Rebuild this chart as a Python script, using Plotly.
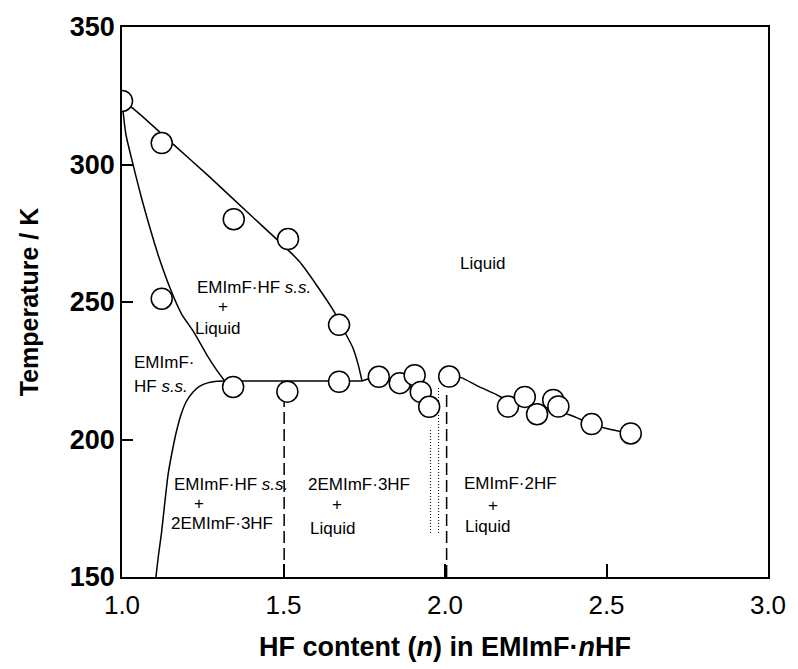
import plotly.graph_objects as go

# Measured DSC points: HF content n and transition temperature (K)
pts_n = [1.000, 1.123, 1.346, 1.514, 1.123, 1.672, 1.344, 1.512, 1.672, 1.795,
         1.860, 1.906, 1.925, 1.951, 2.013, 2.195, 2.247, 2.285, 2.335, 2.351,
         2.454, 2.575]
pts_T = [323.1, 307.8, 280.1, 272.9, 251.2, 241.7, 219.1, 217.4, 221.0, 222.8,
         220.5, 223.4, 217.3, 211.9, 222.9, 212.0, 215.5, 209.2, 214.4, 212.0,
         205.6, 202.2]

# Liquidus of EMImF·HF solid solution
liq1_n = [1.000, 1.035, 1.159, 1.272, 1.396, 1.509, 1.550, 1.602, 1.653, 1.690,
          1.715, 1.731, 1.743]
liq1_T = [323.1, 320.3, 307.3, 295.4, 281.8, 269.5, 264.6, 256.2, 247.2, 239.0,
          233.3, 227.3, 221.3]

# Solidus of the solid solution
sol_n = [1.000, 1.012, 1.035, 1.060, 1.087, 1.115, 1.153, 1.185, 1.221, 1.262,
         1.290, 1.318]
sol_T = [323.1, 311.0, 299.6, 288.0, 276.7, 266.0, 253.8, 245.5, 239.3, 230.9,
         225.8, 221.3]

# Solvus of the solid solution
svs_n = [1.105, 1.113, 1.122, 1.132, 1.143, 1.156, 1.169, 1.184, 1.200, 1.220,
         1.241, 1.265, 1.293, 1.318]
svs_T = [150.0, 158.0, 165.8, 176.5, 187.5, 196.0, 203.2, 209.5, 214.0, 217.3,
         219.4, 220.6, 221.2, 221.3]

# Peritectic line
per_n = [1.318, 1.743]
per_T = [221.3, 221.3]

# Liquidus of 2EMImF·3HF
liq2_n = [1.743, 1.794, 1.860, 1.925, 1.951]
liq2_T = [221.3, 222.8, 220.5, 217.3, 211.9]

# Liquidus of EMImF·2HF
liq3_n = [2.000, 2.050, 2.100, 2.158, 2.200, 2.250, 2.300, 2.385, 2.454, 2.500, 2.575]
liq3_T = [223.0, 222.5, 219.5, 216.4, 213.8, 212.5, 211.3, 209.0, 205.6, 204.0, 202.2]

# Compound compositions (vertical boundaries)
dash_n = [1.502, 2.005]
dash_top = [214.0, 218.0]
dot_n = [1.955, 1.980]
dot_top = [204.0, 219.0]
dot_bottom = 166.0

BLACK = "black"
FONT = "Liberation Sans, Arial"
fig = go.Figure()

for xs, ys in [(liq1_n, liq1_T), (sol_n, sol_T), (svs_n, svs_T),
               (per_n, per_T), (liq2_n, liq2_T), (liq3_n, liq3_T)]:
    fig.add_trace(go.Scatter(x=xs, y=ys, mode="lines",
                             line=dict(color=BLACK, width=1.5, shape="spline",
                                       smoothing=0.6),
                             showlegend=False, hoverinfo="skip"))

for xv, top in zip(dash_n, dash_top):
    fig.add_trace(go.Scatter(x=[xv, xv], y=[150, top], mode="lines",
                             line=dict(color=BLACK, width=1.5, dash="12px,5px"),
                             showlegend=False, hoverinfo="skip"))

for xv, top in zip(dot_n, dot_top):
    fig.add_trace(go.Scatter(x=[xv, xv], y=[dot_bottom, top], mode="lines",
                             line=dict(color=BLACK, width=1, dash="1px,2px"),
                             showlegend=False, hoverinfo="skip"))

fig.add_trace(go.Scatter(x=pts_n, y=pts_T, mode="markers",
                         marker=dict(symbol="circle", size=21, color="white",
                                     line=dict(color=BLACK, width=1.5)),
                         showlegend=False))

LBL = dict(family=FONT, size=17, color=BLACK)
labels = [
    ("Liquid", 2.039, 263.9, "left"),
    ("EMImF·HF <i>s.s.</i>", 1.226, 255.2, "left"),
    ("+", 1.312, 248.4, "center"),
    ("Liquid", 1.219, 240.4, "left"),
    ("EMImF·", 1.030, 227.9, "left"),
    ("HF <i>s.s.</i>", 1.030, 219.4, "left"),
    ("EMImF·HF <i>s.s.</i>", 1.154, 183.6, "left"),
    ("+", 1.238, 176.8, "center"),
    ("2EMImF·3HF", 1.145, 169.6, "left"),
    ("2EMImF·3HF", 1.571, 183.6, "left"),
    ("+", 1.667, 176.4, "center"),
    ("Liquid", 1.575, 167.8, "left"),
    ("EMImF·2HF", 2.054, 183.9, "left"),
    ("+", 2.150, 176.0, "center"),
    ("Liquid", 2.057, 168.2, "left"),
]
for text, x, y, anchor in labels:
    fig.add_annotation(x=x, y=y, text=text, showarrow=False, xanchor=anchor,
                       yanchor="middle", font=LBL)

AX = dict(showline=True, linecolor=BLACK, linewidth=1.5, mirror=True,
          ticks="inside", tickcolor=BLACK, tickwidth=1.5, showgrid=False,
          zeroline=False)

fig.update_layout(
    width=798, height=669,
    margin=dict(l=122, r=29, t=24, b=92),
    paper_bgcolor="white", plot_bgcolor="white",
    xaxis=dict(range=[1.0, 3.0], tickvals=[1.0, 1.5, 2.0, 2.5, 3.0],
               tickformat=".1f", ticklen=13, ticklabelstandoff=4,
               tickfont=dict(family=FONT, size=26, color=BLACK),
               title=dict(text="HF content (<i>n</i>) in EMImF·<i>n</i>HF",
                          font=dict(family=FONT, size=27, color=BLACK,
                                    weight="bold"),
                          standoff=18),
               **AX),
    yaxis=dict(range=[150, 350], tickvals=[150, 200, 250, 300, 350], ticklen=11,
               tickfont=dict(family=FONT, size=27, color=BLACK, weight="bold"),
               title=dict(text="Temperature / K",
                          font=dict(family=FONT, size=25, color=BLACK,
                                    weight="bold"),
                          standoff=24),
               **AX),
)

fig.write_html("out.html")
